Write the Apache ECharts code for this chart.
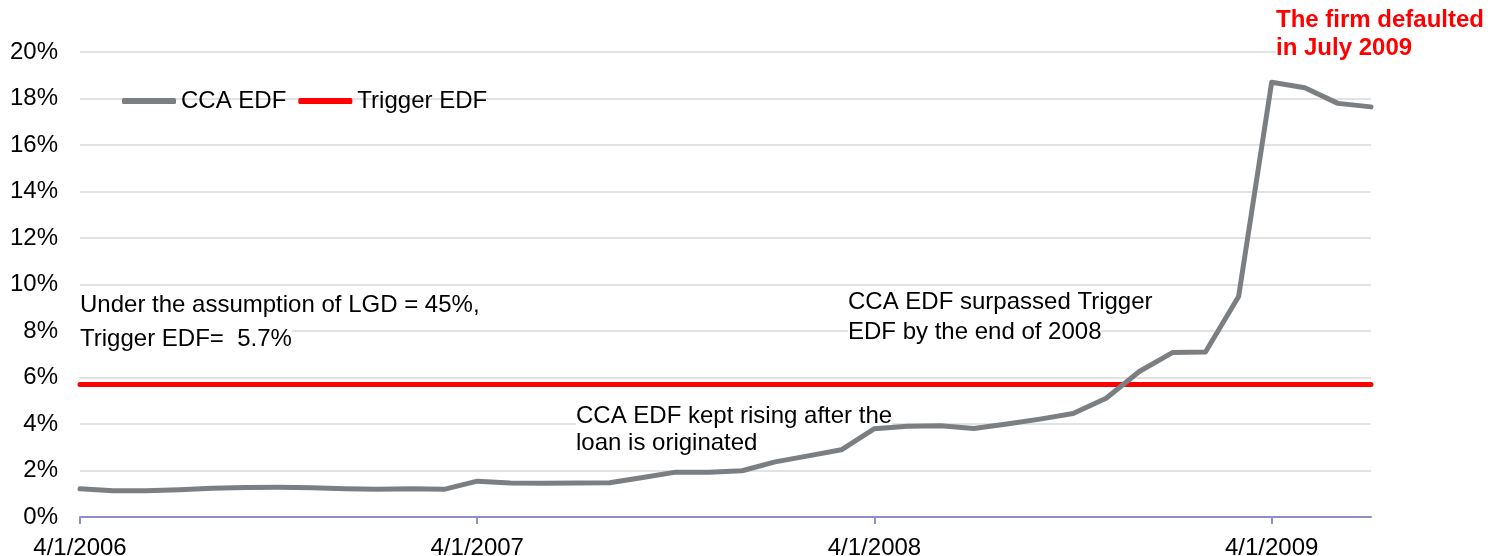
<!DOCTYPE html>
<html>
<head>
<meta charset="utf-8">
<script src="https://cdn.jsdelivr.net/npm/echarts@6/dist/echarts.min.js"></script>
<style>
  html, body { margin: 0; padding: 0; background: #fff; }
  #chart { width: 1493px; height: 556px; }
</style>
</head>
<body>
<div id="chart"></div>
<script>
// monthly dates, 4/1/2006 .. 7/1/2009
const dates = [
  '4/1/2006', '5/1/2006', '6/1/2006', '7/1/2006', '8/1/2006', '9/1/2006',
  '10/1/2006', '11/1/2006', '12/1/2006', '1/1/2007', '2/1/2007', '3/1/2007',
  '4/1/2007', '5/1/2007', '6/1/2007', '7/1/2007', '8/1/2007', '9/1/2007',
  '10/1/2007', '11/1/2007', '12/1/2007', '1/1/2008', '2/1/2008', '3/1/2008',
  '4/1/2008', '5/1/2008', '6/1/2008', '7/1/2008', '8/1/2008', '9/1/2008',
  '10/1/2008', '11/1/2008', '12/1/2008', '1/1/2009', '2/1/2009', '3/1/2009',
  '4/1/2009', '5/1/2009', '6/1/2009', '7/1/2009'
]

// CCA EDF in %
const ccaEdf = [
  1.21, 1.13, 1.13, 1.17, 1.24, 1.27,
  1.28, 1.26, 1.22, 1.19, 1.21, 1.19,
  1.54, 1.46, 1.45, 1.46, 1.47, 1.70,
  1.93, 1.93, 1.99, 2.37, 2.63, 2.89,
  3.80, 3.90, 3.92, 3.81, 4.00, 4.21,
  4.45, 5.11, 6.26, 7.07, 7.10, 9.48,
  18.70, 18.46, 17.79, 17.64
]

// trigger level in %
const triggerLevel = 5.7
const triggerEdf = dates.map(() => triggerLevel)

const chart = echarts.init(document.getElementById('chart'))

const font = 'Arial, "Liberation Sans", sans-serif'

// one text line of an annotation, white box behind it hides the gridlines
// (z 1: above the gridlines, under the series lines)
const note = (text, x, y, color, bold) => ({
  type: 'text',
  x: x,
  y: y,
  z: 1,
  style: {
    text: text,
    font: (bold ? 'bold ' : '') + '24px ' + font,
    fill: color || '#000',
    verticalAlign: 'middle',
    backgroundColor: '#fff',
    padding: [1, 0]
  }
})

chart.setOption({
  animation: false,
  textStyle: { fontFamily: font },
  grid: {
    left: 80, right: 122, top: 52, bottom: 39,
    containLabel: false,
    outerBoundsMode: 'none'
  },
  legend: {
    left: 122,
    top: 89,
    padding: 0,
    itemWidth: 54,
    itemHeight: 6,
    itemGap: 12,
    icon: 'roundRect',
    textStyle: { fontSize: 24, color: '#000', fontFamily: font },
    data: ['CCA EDF', 'Trigger EDF']
  },
  xAxis: {
    type: 'category',
    data: dates,
    boundaryGap: false,
    axisLine: { lineStyle: { color: '#8d8fc5', width: 2 } },
    axisTick: { show: true, interval: 11, length: 7, lineStyle: { color: '#8d8fc5', width: 2 } },
    axisLabel: { interval: 11, color: '#000', fontSize: 24, margin: 19, fontFamily: font },
    splitLine: { show: false }
  },
  yAxis: {
    type: 'value',
    min: 0,
    max: 20,
    interval: 2,
    axisLine: { show: false },
    axisTick: { show: false },
    axisLabel: { formatter: '{value}%', color: '#000', fontSize: 24, margin: 22, fontFamily: font },
    splitLine: { lineStyle: { color: '#d9d9d9', width: 1.5 } }
  },
  series: [
    {
      name: 'CCA EDF',
      type: 'line',
      data: ccaEdf,
      showSymbol: false,
      itemStyle: { color: '#7c7f82' },
      lineStyle: { color: '#7c7f82', width: 5, cap: 'round', join: 'round' },
      z: 3
    },
    {
      name: 'Trigger EDF',
      type: 'line',
      data: triggerEdf,
      showSymbol: false,
      itemStyle: { color: '#ff0000' },
      lineStyle: { color: '#ff0000', width: 5, cap: 'round' },
      z: 2
    }
  ],
  graphic: [
    note('Under the assumption of LGD = 45%,', 80, 305),
    note('Trigger EDF=  5.7%', 80, 339),
    note('CCA EDF surpassed Trigger', 848, 302),
    note('EDF by the end of 2008', 848, 332),
    note('CCA EDF kept rising after the', 576, 416),
    note('loan is originated', 576, 443),
    note('The firm defaulted', 1276, 20, '#ff0000', true),
    note('in July 2009', 1276, 48, '#ff0000', true)
  ]
})
</script>
</body>
</html>
